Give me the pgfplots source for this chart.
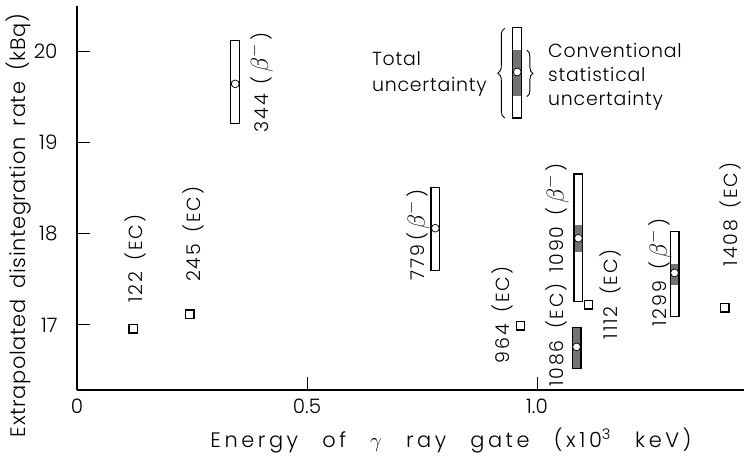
\documentclass[border=0pt]{standalone}
\usepackage{pgfplots}
\pgfplotsset{compat=1.18}
\usepackage{fontspec}
\setmainfont{Poppins}[UprightFont={* Light}]
\newfontfamily\lblfont{Poppins}[UprightFont={* Light}, LetterSpace=10, WordSpace=1.6]
\newfontfamily\keyfont{Poppins}[UprightFont={* Light}, LetterSpace=4]
\newfontfamily\xtitlefont{Poppins}[UprightFont={* Light}, LetterSpace=17, WordSpace=2.6]
\newfontfamily\ytitlefont{Poppins}[UprightFont={* Light}, LetterSpace=3, WordSpace=1.8]
\usetikzlibrary{decorations.pathreplacing}

\newcommand\bmin{(\,{\fontsize{23}{26}\selectfont$\beta^{-}$}\,)}

\tikzset{
  lbl/.style={rotate=90, anchor=west, inner sep=0pt, font=\lblfont\fontsize{19}{22}\selectfont},
}

\begin{document}
\begin{tikzpicture}
\begin{axis}[
  name=ax,
  scale only axis,
  width=667bp, height=384bp,
  xmin=0, xmax=1.45, ymin=16.288, ymax=20.493,
  axis x line=bottom, axis y line=left,
  axis line style={-, line width=1.1bp},
  xtick={0,0.5,1.0}, xticklabels={0,0.5,1.0},
  ytick={17,18,19,20},
  tick align=inside, major tick length=13bp,
  tick style={line width=1bp, black},
  /pgf/number format/assume math mode=true,
  ticklabel style={font=\fontsize{20}{24}\selectfont},
  yticklabel style={xshift=-16bp},
  xticklabel style={yshift=-5bp},
  clip=false,
  error bars/y dir=both,
  error bars/y explicit,
  error bars/error mark=none,
]

% total uncertainty: outlined bar
\addplot[draw=none, mark=none, error bars/error bar style={line width=10bp, black, line cap=butt}]
coordinates {
  (0.344,19.64) += (0,0.48) -= (0,0.44)
  (0.779,18.06) += (0,0.45) -= (0,0.47)
  (1.086,16.76) += (0,0.22) -= (0,0.24)
  (1.090,17.95) += (0,0.71) -= (0,0.70)
  (1.299,17.57) += (0,0.46) -= (0,0.48)
  (0.957,19.77) += (0,0.49) -= (0,0.51)
};
\addplot[draw=none, mark=none, error bars/error bar style={line width=7.6bp, white, line cap=butt, shorten <=1.2bp, shorten >=1.2bp}]
coordinates {
  (0.344,19.64) += (0,0.48) -= (0,0.44)
  (0.779,18.06) += (0,0.45) -= (0,0.47)
  (1.086,16.76) += (0,0.22) -= (0,0.24)
  (1.090,17.95) += (0,0.71) -= (0,0.70)
  (1.299,17.57) += (0,0.46) -= (0,0.48)
  (0.957,19.77) += (0,0.49) -= (0,0.51)
};
% conventional statistical uncertainty: shaded part
\addplot[draw=none, mark=none, error bars/error bar style={line width=7.6bp, black!55, line cap=butt, shorten <=1.2bp, shorten >=1.2bp}]
coordinates {
  (0.344,19.64) += (0,0.04) -= (0,0.04)
  (0.779,18.06) += (0,0.04) -= (0,0.04)
  (1.086,16.76) += (0,0.22) -= (0,0.24)
  (1.090,17.95) += (0,0.16) -= (0,0.16)
  (1.299,17.57) += (0,0.11) -= (0,0.15)
  (0.957,19.77) += (0,0.25) -= (0,0.28)
};
% central values
\addplot[only marks, mark=*, mark size=3.9bp, mark options={fill=white, draw=black, line width=0.7bp}]
coordinates {
  (0.344,19.64) (0.779,18.06) (1.086,16.76) (1.090,17.95) (1.299,17.57) (0.957,19.77)
};
% electron-capture gates
\addplot[only marks, mark=square, mark size=4.2bp, mark options={line width=1.4bp, draw=black}]
coordinates {
  (0.122,16.96) (0.245,17.12) (0.964,16.99) (1.112,17.22) (1.408,17.19)
};

% gate labels
\node[lbl] at (axis cs:0.126,17.24) {122 (EC)};
\node[lbl] at (axis cs:0.252,17.47) {245 (EC)};
\node[lbl] at (axis cs:0.400,19.11) {344\hspace{10bp}\bmin};
\node[lbl] at (axis cs:0.741,17.49) {779\hspace{4bp}\bmin};
\node[lbl] at (axis cs:0.924,16.58) {964 (EC)};
\node[lbl] at (axis cs:1.043,16.32) {1086 (EC)};
\node[lbl] at (axis cs:1.043,17.57) {1090 \bmin};
\node[lbl] at (axis cs:1.159,16.84) {1112 (EC)};
\node[lbl] at (axis cs:1.267,16.98) {1299 \bmin};
\node[lbl] at (axis cs:1.420,17.64) {1408 (EC)};

% key
\draw[decorate, decoration={brace, amplitude=7bp}, line width=0.9bp]
  (axis cs:0.930,19.266) -- (axis cs:0.930,20.25);
\draw[decorate, decoration={brace, amplitude=6bp}, line width=0.9bp]
  (axis cs:0.978,20.01) -- (axis cs:0.978,19.50);
\node[anchor=west, align=left, inner sep=0pt, font=\keyfont\fontsize{19}{26}\selectfont]
  at (axis cs:0.641,19.754) {Total\\uncertainty};
\node[anchor=west, align=left, inner sep=0pt, font=\keyfont\fontsize{19}{24}\selectfont]
  at (axis cs:1.024,19.715) {Conventional\\statistical\\uncertainty};

% axis titles
\node[font=\xtitlefont\fontsize{21}{26}\selectfont] at (axis cs:0.813,15.74)
  {Energy of $\gamma$ ray gate (x10\textsuperscript{3} keV)};
\node[rotate=90, font=\ytitlefont\fontsize{21}{26}\selectfont] at (axis cs:-0.128,18.09)
  {Extrapolated disintegration rate (kBq)};
\end{axis}
\pgfresetboundingbox
\path ([xshift=-77bp,yshift=-67bp]ax.south west) rectangle ([xshift=2bp,yshift=6bp]ax.north east);
\end{tikzpicture}
\end{document}
